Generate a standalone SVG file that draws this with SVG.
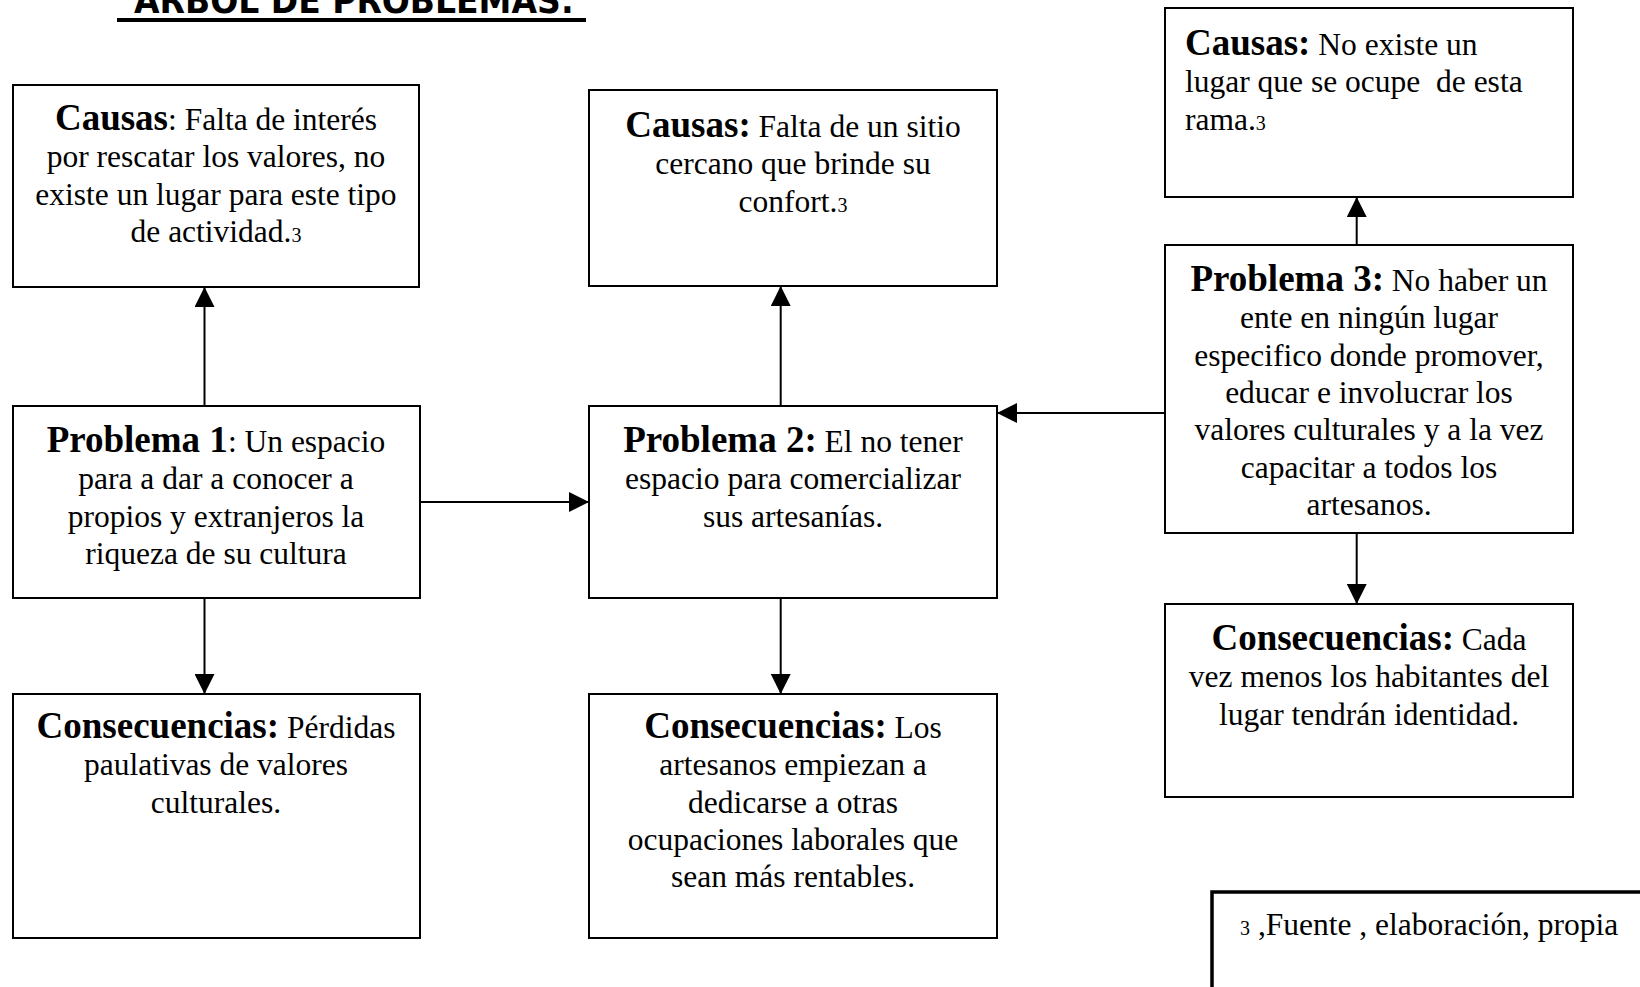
<svg xmlns="http://www.w3.org/2000/svg" width="1640" height="987" viewBox="0 0 1640 987">
<style>
.box{fill:#fff;stroke:#000;stroke-width:2}
.t{font-family:"Liberation Serif","Times New Roman",serif;font-size:31.5px;fill:#000;text-anchor:middle}
.l{text-anchor:start}
.b{font-weight:bold;font-size:37px}
.s{font-size:20px}
.con{stroke:#000;stroke-width:2;fill:none;marker-end:url(#ah)}
</style>
<defs>
<marker id="ah" markerUnits="userSpaceOnUse" markerWidth="20" markerHeight="20" refX="20" refY="10" orient="auto">
<path d="M0,0 L20,10 L0,20 Z" fill="#000"/>
</marker>
</defs>
<rect width="1640" height="987" fill="#fff"/>
<g id="title">
<text x="134" y="12.5" font-family="'DejaVu Sans',sans-serif" font-weight="bold" font-size="36" textLength="440" lengthAdjust="spacingAndGlyphs">ARBOL DE PROBLEMAS:</text>
<rect x="117" y="18" width="469" height="4" fill="#000"/>
</g>
<g id="connectors">
<line class="con" x1="204.5" y1="406" x2="204.5" y2="287"/>
<line class="con" x1="204.5" y1="598" x2="204.5" y2="694"/>
<line class="con" x1="421" y1="502" x2="589" y2="502"/>
<line class="con" x1="780.7" y1="406" x2="780.7" y2="286"/>
<line class="con" x1="780.7" y1="598" x2="780.7" y2="694"/>
<line class="con" x1="1165" y1="413" x2="997" y2="413"/>
<line class="con" x1="1356.7" y1="245" x2="1356.7" y2="197"/>
<line class="con" x1="1356.7" y1="533" x2="1356.7" y2="604"/>
</g>
<g id="causas1">
<rect class="box" x="13" y="85" width="406" height="202"/>
<text class="t" x="216" y="130"><tspan class="b">Causas</tspan>: Falta de interés</text>
<text class="t" x="216" y="167.3">por rescatar los valores, no</text>
<text class="t" x="216" y="204.6">existe un lugar para este tipo</text>
<text class="t" x="216" y="242">de actividad.<tspan class="s">3</tspan></text>
</g>
<g id="problema1">
<rect class="box" x="13" y="406" width="407" height="192"/>
<text class="t" x="216" y="452"><tspan class="b">Problema 1</tspan>: Un espacio</text>
<text class="t" x="216" y="489.3">para a dar a conocer a</text>
<text class="t" x="216" y="526.6">propios y extranjeros la</text>
<text class="t" x="216" y="564">riqueza de su cultura</text>
</g>
<g id="consecuencias1">
<rect class="box" x="13" y="694" width="407" height="244"/>
<text class="t" x="216" y="738"><tspan class="b">Consecuencias:</tspan> Pérdidas</text>
<text class="t" x="216" y="775.3">paulativas de valores</text>
<text class="t" x="216" y="812.6">culturales.</text>
</g>
<g id="causas2">
<rect class="box" x="589" y="90" width="408" height="196"/>
<text class="t" x="793" y="137"><tspan class="b">Causas:</tspan> Falta de un sitio</text>
<text class="t" x="793" y="174.3">cercano que brinde su</text>
<text class="t" x="793" y="211.6">confort.<tspan class="s">3</tspan></text>
</g>
<g id="problema2">
<rect class="box" x="589" y="406" width="408" height="192"/>
<text class="t" x="793" y="452"><tspan class="b">Problema 2:</tspan> El no tener</text>
<text class="t" x="793" y="489.3">espacio para comercializar</text>
<text class="t" x="793" y="526.6">sus artesanías.</text>
</g>
<g id="consecuencias2">
<rect class="box" x="589" y="694" width="408" height="244"/>
<text class="t" x="793" y="738"><tspan class="b">Consecuencias:</tspan> Los</text>
<text class="t" x="793" y="775.3">artesanos empiezan a</text>
<text class="t" x="793" y="812.6">dedicarse a otras</text>
<text class="t" x="793" y="850">ocupaciones laborales que</text>
<text class="t" x="793" y="887.3">sean más rentables.</text>
</g>
<g id="causas3">
<rect class="box" x="1165" y="8" width="408" height="189"/>
<text class="t l" x="1185" y="55"><tspan class="b">Causas:</tspan> No existe un</text>
<text class="t l" x="1185" y="92.3">lugar que se ocupe&#160; de esta</text>
<text class="t l" x="1185" y="129.6">rama.<tspan class="s">3</tspan></text>
</g>
<g id="problema3">
<rect class="box" x="1165" y="245" width="408" height="288"/>
<text class="t" x="1369" y="291"><tspan class="b">Problema 3:</tspan> No haber un</text>
<text class="t" x="1369" y="328.3">ente en ningún lugar</text>
<text class="t" x="1369" y="365.6">especifico donde promover,</text>
<text class="t" x="1369" y="403">educar e involucrar los</text>
<text class="t" x="1369" y="440.3">valores culturales y a la vez</text>
<text class="t" x="1369" y="477.6">capacitar a todos los</text>
<text class="t" x="1369" y="515">artesanos.</text>
</g>
<g id="consecuencias3">
<rect class="box" x="1165" y="604" width="408" height="193"/>
<text class="t" x="1369" y="650"><tspan class="b">Consecuencias:</tspan> Cada</text>
<text class="t" x="1369" y="687.3">vez menos los habitantes del</text>
<text class="t" x="1369" y="724.6">lugar tendrán identidad.</text>
</g>
<g id="nota">
<rect x="1212" y="892" width="500" height="200" fill="#fff" stroke="#000" stroke-width="3.5"/>
<text class="t l" x="1240" y="935"><tspan class="s">3</tspan> ,Fuente , elaboración, propia</text>
</g>
</svg>
